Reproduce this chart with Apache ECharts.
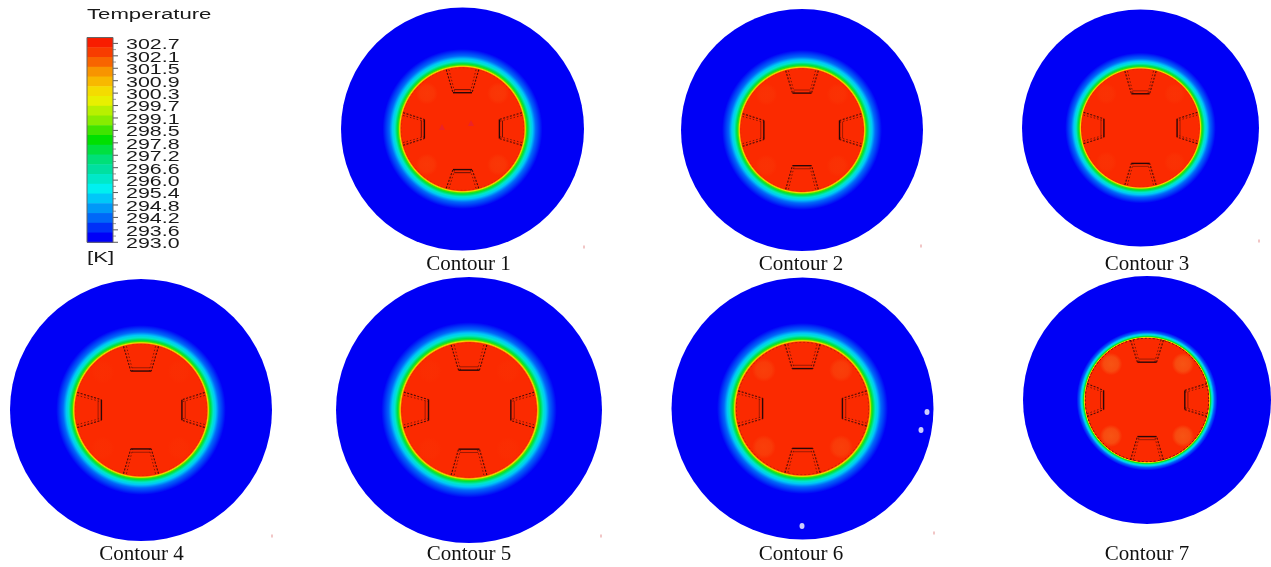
<!DOCTYPE html>
<html><head><meta charset="utf-8">
<style>html,body{margin:0;padding:0;background:#fff}#c{width:1271px;height:567px}</style>
<script src="https://cdn.jsdelivr.net/npm/echarts@6/dist/echarts.min.js"></script>
</head><body><div id="c"></div>
<script>
// ---- values ----
const contourNames = ['Contour 1','Contour 2','Contour 3','Contour 4','Contour 5','Contour 6','Contour 7'];
const centerX   = [462.5, 802, 1140.5, 141, 469, 802.5, 1147];
const centerY   = [129, 130, 128, 410, 410, 408.5, 400];
const outerR    = [121.5, 121, 118.5, 131, 133, 131, 124];
const innerR    = [61.5, 61.5, 59, 66, 67.5, 66.5, 62];
const glowWidth = [1, 1, 0.92, 0.95, 1, 0.95, 0.45];
const patchAlpha= [0.3, 0.18, 0.18, 0.08, 0.08, 0.5, 1];
const rimAlpha  = [0.1, 0.06, 0.06, 0.06, 0.06, 0.25, 0.6];
// blade tip distance from the centre / inner radius: top, right, bottom, left
const bladeTop    = [0.59, 0.60, 0.58, 0.59, 0.59, 0.60, 0.61];
const bladeRight  = [0.60, 0.61, 0.62, 0.62, 0.62, 0.60, 0.61];
const bladeBottom = [0.66, 0.58, 0.60, 0.59, 0.58, 0.60, 0.59];
const bladeLeft   = [0.62, 0.62, 0.62, 0.60, 0.60, 0.60, 0.70];
const labelX = [468.5, 801, 1147, 141.5, 469, 801, 1147];
const labelY = [264, 264, 264, 554, 554, 554, 554];
// radial temperature profile (radius / inner radius -> K)
const profileRadius = [1.0, 1.006, 1.02, 1.04, 1.06, 1.10, 1.14, 1.19, 1.25, 1.30];
const profileTemp   = [302.7, 301.5, 300.3, 298.5, 297.2, 296.0, 294.8, 294.0, 293.3, 293.0];
// legend
const legendTicks = ['302.7','302.1','301.5','300.9','300.3','299.7','299.1','298.5','297.8','297.2','296.6','296.0','295.4','294.8','294.2','293.6','293.0'];
const legendBands = ['#f81c00','#f83c00','#f86400','#f89400','#f8b800','#f4dc00','#e8f000','#b8f000','#88ec00','#40e400','#00e000','#00e040','#00e078','#00e0a0','#00e8c8','#00f0f0','#00c8f8','#0098f8','#0068f8','#0030f8','#0000f8'];
// spots: x, y
const whiteSpots = [[927,412],[921,430],[802,526]];
const redSpecks = [[584,247],[921,246],[1259,241],[272,536],[601,536],[934,533]];
const hotSpots = [[442,127],[471,123]];

const T_MIN = 293.0, T_MAX = 302.7;
function tempColor(t){
  const f = (T_MAX - t) / (T_MAX - T_MIN);
  return legendBands[Math.max(0, Math.min(legendBands.length-1, Math.round(f*(legendBands.length-1))))];
}
const RED = '#fb2a00', BLUE = '#0000f6', INK = '#2a0808';

function bladeLines(cx, cy, R, tip, rot, k){
  const rotp = (u,v)=>{
    const c=[[1,0,0,1],[0,1,-1,0],[-1,0,0,-1],[0,-1,1,0]][rot];
    return [cx + R*(c[0]*u + c[2]*v), cy + R*(c[1]*u + c[3]*v)];
  };
  const rim = 0.965, w0=0.265, w1=0.155;
  const L = (pts,dash,lw,op)=>({type:'polyline',silent:true,shape:{points:pts.map(p=>rotp(p[0],p[1]))},
     style:{stroke:INK,fill:null,lineWidth:lw,lineDash:dash,opacity:op}});
  return [
    L([[-w0,-rim],[-w1,-tip]],[2,1.5],1.1,.85),
    L([[w0,-rim],[w1,-tip]],[2,1.5],1.1,.85),
    L([[-w0+.045,-rim],[-w1+.03,-tip]],[1.5,2],1,.6),
    L([[w0-.045,-rim],[w1-.03,-tip]],[1.5,2],1,.6),
    L([[-w1,-tip],[w1,-tip]],null,1.4,1),
    L([[-w1+.02,-tip-.05],[w1-.02,-tip-.05]],null,.9,k)
  ];
}
function renderContour(params, api){
  const i = api.value(0);
  const c = api.coord([centerX[i], centerY[i]]);
  const p1 = api.coord([centerX[i]+outerR[i], centerY[i]]);
  const p2 = api.coord([centerX[i]+innerR[i], centerY[i]]);
  const Ro = p1[0]-c[0], R = p2[0]-c[0], g = glowWidth[i];
  const stops = [{offset:0,color:RED}];
  profileRadius.forEach((r,j)=>{
    const rad = R*(1+(r-1)*g);
    stops.push({offset:rad/Ro, color: j===0 ? RED : tempColor(profileTemp[j])});
  });
  stops[stops.length-1].color = BLUE;
  stops.push({offset:1,color:BLUE});
  const ch = [{type:'circle',silent:true,shape:{cx:c[0],cy:c[1],r:Ro},
     style:{fill:new echarts.graphic.RadialGradient(.5,.5,.5,stops)}}];
  [[-1,-1],[1,-1],[-1,1],[1,1]].forEach(s=>{
    const d=R*.82*Math.SQRT1_2, r=R*.18;
    ch.push({type:'circle',silent:true,shape:{cx:c[0]+s[0]*d,cy:c[1]+s[1]*d,r},
      style:{opacity:patchAlpha[i],fill:new echarts.graphic.RadialGradient(.5,.5,.5,[
        {offset:0,color:'rgba(246,88,22,.9)'},{offset:.65,color:'rgba(246,88,22,.7)'},{offset:1,color:'rgba(246,88,22,0)'}])}});
  });
  ch.push({type:'circle',silent:true,shape:{cx:c[0],cy:c[1],r:R*.995},
    style:{fill:null,stroke:INK,lineWidth:1,lineDash:[2,2],opacity:rimAlpha[i]}});
  const tips=[bladeTop[i],bladeRight[i],bladeBottom[i],bladeLeft[i]];
  tips.forEach((t,rot)=>{ bladeLines(c[0],c[1],R,t,rot,i===0?.8:.5).forEach(e=>ch.push(e)); });
  return {type:'group',children:ch};
}
function renderBand(params, api){
  const i = api.value(0), n = legendBands.length;
  const top = 37.5, bottom = 242.3, h=(bottom-top)/n;
  const a = api.coord([87, top+i*h]), b = api.coord([113, top+(i+1)*h]);
  return {type:'rect',silent:true,shape:{x:a[0],y:a[1],width:b[0]-a[0],height:b[1]-a[1]+.5},style:{fill:legendBands[i]}};
}
function renderTick(params, api){
  const i = api.value(0);
  const y0 = 43.4, step = 12.43, y = y0+i*step;
  const a = api.coord([113,y]), b = api.coord([118,y]), t = api.coord([126,y+1.6]);
  const ch=[
    {type:'line',silent:true,shape:{x1:a[0],y1:a[1],x2:b[0],y2:b[1]},style:{stroke:'#555',lineWidth:1}},
    {type:'text',silent:true,x:t[0],y:t[1],scaleX:1.38,style:{text:legendTicks[i],fill:'#1a1a1a',
      font:'15.5px "Liberation Sans"',textAlign:'left',textVerticalAlign:'middle'}}
  ];
  if(i<legendTicks.length-1){
    const m=api.coord([113,y+step/2]), n=api.coord([116,y+step/2]);
    ch.push({type:'line',silent:true,shape:{x1:m[0],y1:m[1],x2:n[0],y2:n[1]},style:{stroke:'#999',lineWidth:1}});
  }
  return {type:'group',children:ch};
}
function renderLabel(params, api){
  const i = api.value(0), p = api.coord([labelX[i],labelY[i]]);
  return {type:'text',silent:true,x:p[0],y:p[1],style:{text:contourNames[i],fill:'#111',
    font:'21px "Liberation Serif"',textAlign:'center',textVerticalAlign:'middle'}};
}
function renderLegendHead(params, api){
  const p=api.coord([87,14.5]), q=api.coord([87,258]), a=api.coord([87,37.5]), b=api.coord([113,242.3]);
  return {type:'group',children:[
    {type:'text',silent:true,x:p[0],y:p[1],scaleX:1.43,style:{text:'Temperature',fill:'#1a1a1a',font:'15.5px "Liberation Sans"',textAlign:'left',textVerticalAlign:'middle'}},
    {type:'text',silent:true,x:q[0],y:q[1],scaleX:1.43,style:{text:'[K]',fill:'#1a1a1a',font:'15.5px "Liberation Sans"',textAlign:'left',textVerticalAlign:'middle'}},
    {type:'rect',silent:true,shape:{x:a[0],y:a[1],width:b[0]-a[0],height:b[1]-a[1]},style:{fill:null,stroke:'#666',lineWidth:1}}
  ]};
}
const idx = arr => arr.map((_,i)=>[i]);
const option = {
  animation:false,
  backgroundColor:'#fff',
  grid:{left:0,right:0,top:0,bottom:0},
  xAxis:{type:'value',min:0,max:1271,show:false},
  yAxis:{type:'value',min:0,max:567,inverse:true,show:false},
  series:[
    {type:'custom',renderItem:renderContour,data:idx(contourNames),encode:{x:[],y:[]},clip:false,silent:true,z:1},
    {type:'scatter',data:whiteSpots,symbol:'circle',symbolSize:[5,6],itemStyle:{color:'#fff'},silent:true,z:3},
    {type:'scatter',data:redSpecks,symbol:'rect',symbolSize:[1.5,3],itemStyle:{color:'#e8a0a0'},silent:true,z:3},
    {type:'scatter',data:hotSpots,symbol:'triangle',symbolSize:6,itemStyle:{color:'#e82030'},silent:true,z:3},
    {type:'custom',renderItem:renderBand,data:idx(legendBands),encode:{x:[],y:[]},silent:true,z:2},
    {type:'custom',renderItem:renderTick,data:idx(legendTicks),encode:{x:[],y:[]},silent:true,z:2},
    {type:'custom',renderItem:renderLegendHead,data:[[0]],encode:{x:[],y:[]},silent:true,z:3},
    {type:'custom',renderItem:renderLabel,data:idx(contourNames),encode:{x:[],y:[]},silent:true,z:4}
  ]
};
echarts.init(document.getElementById('c')).setOption(option);
</script></body></html>
